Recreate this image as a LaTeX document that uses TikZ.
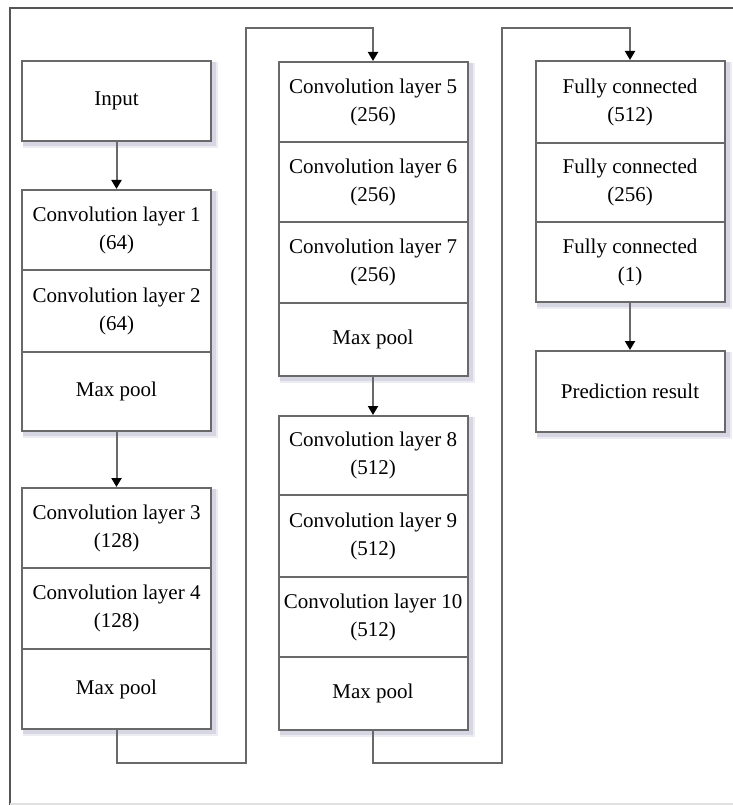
\documentclass[tikz,border=0pt]{standalone}
\usepackage{fontspec}
\setmainfont{Liberation Serif}
\usetikzlibrary{arrows.meta,backgrounds}
\definecolor{linegray}{RGB}{105,105,105}
\definecolor{framegray}{RGB}{85,85,85}
\definecolor{shadowcol}{RGB}{150,150,185}
\tikzset{
  cell/.style={draw=linegray, line width=2pt, fill=white, minimum width=189pt,
    minimum height=80pt, inner sep=0pt, align=center,
    font=\fontsize{21}{28}\selectfont},
  conn/.style={draw=linegray, line width=2pt},
  arr/.style={conn, -{Triangle[width=10pt,length=9pt,fill=black,color=black]}},
}
\begin{document}
\begin{tikzpicture}[x=1pt,y=-1pt]
\useasboundingbox (0,0) rectangle (732,805);
% outer frame
\draw[framegray, line width=2pt] (733,8) -- (10,8) -- (10,805);
\draw[black!12, line width=1.5pt] (10,804) -- (733,804);

% column 1
\node[cell] (inp) at (116.5,101) {Input};
\node[cell] (c1) at (116.5,230) {Convolution layer 1\\(64)};
\node[cell, minimum height=82pt] (c2) at (116.5,311) {Convolution layer 2\\(64)};
\node[cell, minimum height=79pt] (m1) at (116.5,391.5) {Max pool};
\node[cell] (c3) at (116.5,528) {Convolution layer 3\\(128)};
\node[cell, minimum height=81pt] (c4) at (116.5,608.5) {Convolution layer 4\\(128)};
\node[cell] (m2) at (116.5,689) {Max pool};

% column 2
\node[cell] (c5) at (373,102) {Convolution layer 5\\(256)};
\node[cell] (c6) at (373,182) {Convolution layer 6\\(256)};
\node[cell, minimum height=81pt] (c7) at (373,262.5) {Convolution layer 7\\(256)};
\node[cell, minimum height=73pt] (m3) at (373,339.5) {Max pool};
\node[cell, minimum height=79pt] (c8) at (373,455.5) {Convolution layer 8\\(512)};
\node[cell, minimum height=82pt] (c9) at (373,536) {Convolution layer 9\\(512)};
\node[cell] (c10) at (373,617) {Convolution layer 10\\(512)};
\node[cell, minimum height=73pt] (m4) at (373,693.5) {Max pool};

% column 3
\node[cell, minimum height=82pt] (f1) at (630,102) {Fully connected\\(512)};
\node[cell, minimum height=79pt] (f2) at (630,182.5) {Fully connected\\(256)};
\node[cell] (f3) at (630,262) {Fully connected\\(1)};
\node[cell, minimum height=81pt] (pr) at (630,391.5) {Prediction result};

% shadows
\begin{scope}[on background layer]
  \foreach \a/\b in {inp/inp, c1/m1, c3/m2, c5/m3, c8/m4, f1/f3, pr/pr}{
    \fill[shadowcol, opacity=0.18] ([shift={(2,2)}]\a.north west) rectangle ([shift={(6,6)}]\b.south east);
    \fill[shadowcol, opacity=0.25] ([shift={(2,2)}]\a.north west) rectangle ([shift={(4,4)}]\b.south east);
  }
\end{scope}

% connector coordinates
\coordinate (l1b) at (246,763);
\coordinate (l1t) at (246,28);
\coordinate (l2b) at (502,763);
\coordinate (l2t) at (502,28);

% connectors
\draw[arr] (inp.south) -- (c1.north);
\draw[arr] (m1.south) -- (c3.north);
\draw[arr] (m2.south) |- (l1b) -- (l1t) -| (c5.north);
\draw[arr] (m3.south) -- (c8.north);
\draw[arr] (m4.south) |- (l2b) -- (l2t) -| (f1.north);
\draw[arr] (f3.south) -- (pr.north);
\end{tikzpicture}
\end{document}
